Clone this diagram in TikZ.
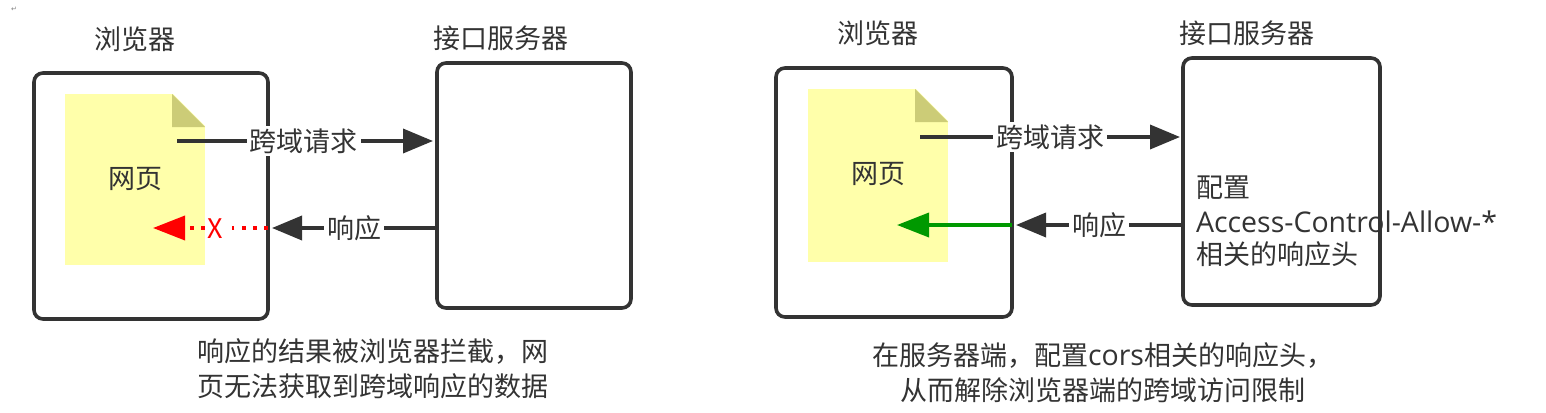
\documentclass[tikz,border=0pt]{standalone}
\usepackage{fontspec}
\setmainfont{Noto Sans CJK SC}
\newfontfamily\symfont{DejaVu Sans}
\newfontfamily\latinfont{Open Sans}
\usetikzlibrary{arrows.meta}
\definecolor{ink}{HTML}{333333}
\definecolor{pagefill}{HTML}{FFFFAA}
\definecolor{foldfill}{HTML}{CCCC77}
\definecolor{okgreen}{HTML}{009900}
\tikzset{
  every node/.style={text=ink,font=\fontsize{27}{35}\selectfont,inner sep=0pt,outer sep=0pt},
  boxnode/.style={draw=ink,line width=3.6pt,rounded corners=9pt,fill=white,anchor=north west},
  pagenode/.style={fill=pagefill,anchor=north west},
  lbl/.style={fill=white,inner xsep=3pt,inner ysep=3pt},
  flow/.style={draw=ink,line width=3.6pt,-{Triangle[length=30pt,width=24pt]}},
  dotted red/.style={draw=red,line width=3.6pt,dash pattern=on 3.6pt off 7.6pt},
}
\begin{document}
\begin{tikzpicture}[x=1pt,y=-1pt]
\useasboundingbox (0,0) rectangle (1546,412);
\fill[white] (0,0) rectangle (1546,412);
\node[text=gray,font=\symfont\fontsize{7}{7}\selectfont] (mark) at (14,9) {↵};
% left
\node (t1) at (135,39) {浏览器};
\node (t2) at (501,38) {接口服务器};
\node[boxnode,minimum width=234pt,minimum height=246pt] (b1) at (34,73) {};
\node[boxnode,minimum width=194pt,minimum height=245pt] (s1) at (437,63) {};
\node[pagenode,minimum width=140pt,minimum height=171pt] (p1) at (65,94) {};
\fill[white] (172,93) -- (206,93) -- (206,127) -- cycle;
\fill[foldfill] (172,94) -- (205,127) -- (172,127) -- cycle;
\node (w1) at (135,179) {网页};
\coordinate (r1s) at (177,141);
\coordinate (r1e) at (433,141);
\draw[flow] (r1s) -- node[lbl,pos=0.496] (l1) {跨域请求} (r1e);
\coordinate (a1s) at (s1.west |- 0,228);
\coordinate (a1e) at (272,228);
\draw[flow] (a1s) -- node[lbl,pos=0.503] (l2) {响应} (a1e);
\coordinate (x1s) at (268,228);
\coordinate (x1e) at (153,228);
\node[text=red,inner xsep=1.5pt] (x1) at (215,229) {X};
\draw[dotted red] (x1s) -- ([xshift=8pt]x1.east |- x1s);
\draw[dotted red,-{Triangle[length=32pt,width=24pt]}] ([xshift=-1pt]x1.west |- x1s) -- (x1e);
\node[align=center] (c1) at (373,369) {响应的结果被浏览器拦截，网\\页无法获取到跨域响应的数据};
% right
\node (t3) at (878,33) {浏览器};
\node (t4) at (1247,33) {接口服务器};
\node[boxnode,minimum width=236pt,minimum height=249pt] (b2) at (776,68) {};
\node[boxnode,minimum width=197pt,minimum height=247pt] (s2) at (1183,58) {};
\node[pagenode,minimum width=140pt,minimum height=173pt] (p2) at (808,89) {};
\fill[white] (915,88) -- (949,88) -- (949,122) -- cycle;
\fill[foldfill] (915,89) -- (948,122) -- (915,122) -- cycle;
\node (w2) at (878,174) {网页};
\coordinate (r2s) at (920,137);
\coordinate (r2e) at (1180,137);
\draw[flow] (r2s) -- node[lbl,pos=0.5] (l3) {跨域请求} (r2e);
\coordinate (a2s) at (s2.west |- 0,225);
\coordinate (a2e) at (1016,225);
\draw[flow] (a2s) -- node[lbl,pos=0.503] (l4) {响应} (a2e);
\coordinate (g2s) at (b2.east |- 0,225);
\coordinate (g2e) at (897,225);
\draw[okgreen,line width=3.6pt,-{Triangle[length=32pt,width=24pt]}] (g2s) -- (g2e);
\node[align=left,anchor=north west] (cfg) at (1196,176) {配置\\[0pt]{\latinfont\fontsize{28.5}{35}\selectfont Access-Control-Allow-*}\\[-3pt]相关的响应头};
\node[align=center] (c2) at (1102.5,373) {在服务器端，配置{\latinfont\fontsize{28.5}{35}\selectfont cors}相关的响应头，\\从而解除浏览器端的跨域访问限制};
\end{tikzpicture}
\end{document}
